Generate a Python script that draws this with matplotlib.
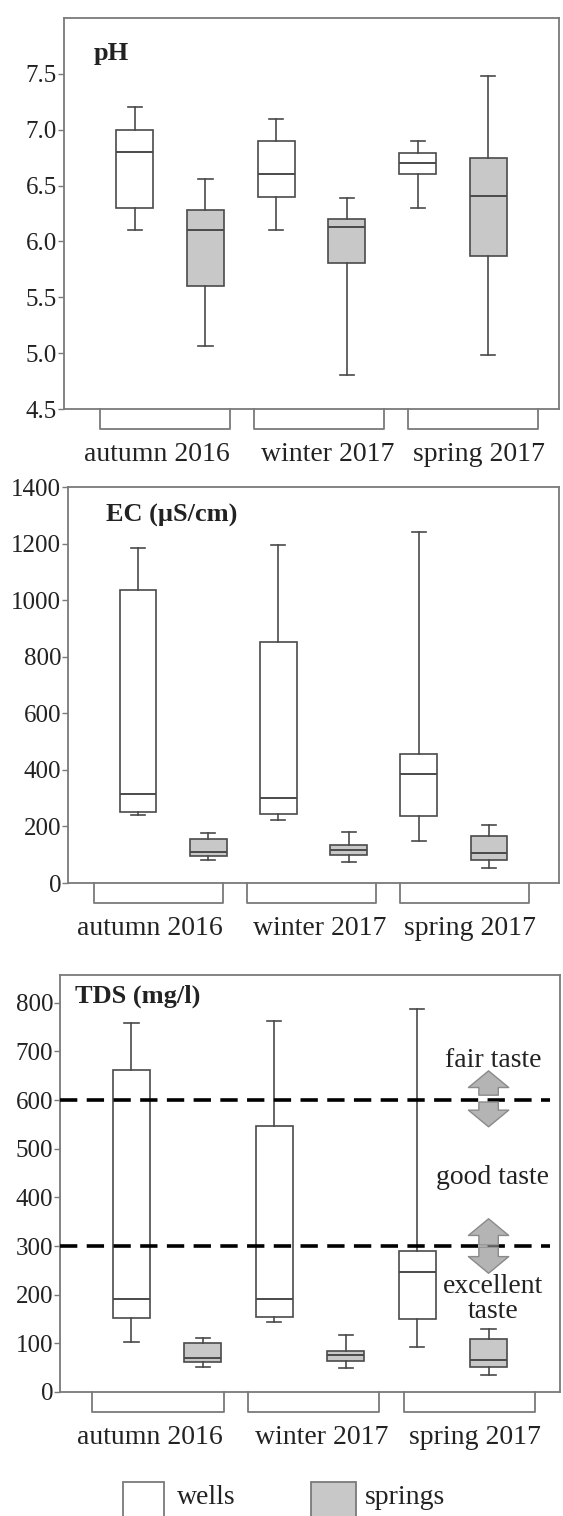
import matplotlib
matplotlib.use('Agg')
import matplotlib.pyplot as plt
import matplotlib.patches as mpatches
from matplotlib.transforms import blended_transform_factory

plt.rcParams['font.family'] = ['Liberation Serif', 'DejaVu Serif']

seasons = ['autumn 2016', 'winter 2017', 'spring 2017']
groups = ['wells', 'springs']

# per season: [whislo, q1, med, q3, whishi]
ph_wells = [[6.10, 6.30, 6.80, 7.00, 7.20], [6.10, 6.40, 6.60, 6.90, 7.10], [6.30, 6.60, 6.70, 6.79, 6.90]]
ph_springs = [[5.06, 5.60, 6.10, 6.28, 6.56], [4.80, 5.81, 6.13, 6.20, 6.39], [4.98, 5.87, 6.41, 6.75, 7.48]]
ec_wells = [[241, 251, 316, 1036, 1186], [221, 245, 302, 853, 1194], [147, 236, 385, 456, 1242]]
ec_springs = [[80, 95, 110, 156, 176], [76, 98, 118, 133, 182], [54, 82, 106, 166, 204]]
tds_wells = [[103, 152, 192, 661, 758], [143, 155, 191, 546, 763], [93, 150, 246, 290, 787]]
tds_springs = [[52, 62, 70, 100, 112], [50, 63, 77, 85, 118], [35, 52, 65, 108, 129]]

ph_ticks = [4.5, 5.0, 5.5, 6.0, 6.5, 7.0, 7.5]
ec_ticks = [0, 200, 400, 600, 800, 1000, 1200, 1400]
tds_ticks = [0, 100, 200, 300, 400, 500, 600, 700, 800]

taste_limits = [300, 600]
taste_labels = ['excellent', 'taste', 'good taste', 'fair taste']
taste_label_y = [217, 166, 441, 682]

W, H = 563, 1516
fig = plt.figure(figsize=(W / 100, H / 100), dpi=100)

EDGE = '#4a4a4a'
FRAME = '#7a7a7a'
GREY = '#c8c8c8'
TXT = '#222222'


def make_stats(rows):
    out = []
    for lo, q1, med, q3, hi in rows:
        out.append(dict(whislo=lo, q1=q1, med=med, q3=q3, whishi=hi, fliers=[]))
    return out


def panel(rect_px, wells, springs, ylim, ticks, fmt, title, title_xy, br_off):
    left, top, right, bottom = rect_px
    ax = fig.add_axes([left / W, 1 - bottom / H, (right - left) / W, (bottom - top) / H])
    pos_w = [1 + 2 * i for i in range(3)]
    pos_s = [2 + 2 * i for i in range(3)]
    for stats, pos, fc in [(make_stats(wells), pos_w, 'white'), (make_stats(springs), pos_s, GREY)]:
        ax.bxp(stats, positions=pos, widths=0.52, capwidths=0.2, showfliers=False,
               patch_artist=True,
               boxprops=dict(facecolor=fc, edgecolor=EDGE, linewidth=1.2),
               medianprops=dict(color=EDGE, linewidth=1.4),
               whiskerprops=dict(color=EDGE, linewidth=1.2),
               capprops=dict(color=EDGE, linewidth=1.2))
    ax.set_xlim(0, 7)
    ax.set_ylim(*ylim)
    ax.set_xticks([])
    ax.set_yticks(ticks)
    ax.set_yticklabels([fmt.format(t) for t in ticks])
    ax.tick_params(axis='y', length=4, width=1, color=FRAME, labelsize=18, labelcolor=TXT, pad=1)
    for s in ax.spines.values():
        s.set_color(FRAME)
        s.set_linewidth(1.3)
    ax.text(title_xy[0], title_xy[1], title, transform=ax.transAxes, fontsize=19,
            fontweight='bold', color=TXT, ha='left', va='center')
    # season brackets under the axis
    tr = blended_transform_factory(ax.transData, ax.transAxes)
    depth = 20 / (bottom - top)
    for i, lab in enumerate(seasons):
        x0 = br_off + 2.18 * i
        x1 = x0 + 1.84
        ax.plot([x0, x0, x1, x1], [0, -depth, -depth, 0], color=FRAME, lw=1.3,
                transform=tr, clip_on=False)
        ax.annotate(lab, xy=((x0 + x1) / 2, 0), xycoords=tr,
                    xytext=([-6, 6, 4][i], -33),
                    textcoords='offset points', ha='center', va='center',
                    fontsize=20, color=TXT)
    return ax


panel((64, 18, 559, 409), ph_wells, ph_springs, (4.5, 8.0), ph_ticks, '{:.1f}',
      'pH', (0.059, 0.908), 0.51)
panel((68, 487, 559, 883), ec_wells, ec_springs, (0, 1400), ec_ticks, '{:d}',
      'EC (\u00b5S/cm)', (0.077, 0.927), 0.37)
ax3 = panel((60, 975, 560, 1392), tds_wells, tds_springs, (0, 857), tds_ticks, '{:d}',
            'TDS (mg/l)', (0.03, 0.95), 0.45)

for lim in taste_limits:
    ax3.axhline(lim, xmin=0, xmax=0.98, color='black', lw=2.6, ls=(0, (4.8, 2.6)), zorder=5)

arrow_style = 'simple,tail_width=0.7,head_width=1.45,head_length=0.6'
arrows = [(610, 660), (596, 545), (302, 356), (298, 244)]
for y0, y1 in arrows:
    ax3.annotate('', xy=(6.0, y1), xytext=(6.0, y0),
                 arrowprops=dict(arrowstyle=arrow_style, mutation_scale=20,
                                 fc='#b4b4b4', ec='#8a8a8a', lw=1.0, shrinkA=0, shrinkB=0),
                 zorder=6)

for lab, y in zip(taste_labels, taste_label_y):
    ax3.text(6.06, y, lab, ha='center', va='center', fontsize=20, color=TXT)

# legend at the bottom
for (x0, x1, tx), fc, lab in zip([(123, 164, 177), (311, 356, 365)], ['white', GREY], groups):
    fig.patches.append(mpatches.Rectangle((x0 / W, 1 - 1530 / H), (x1 - x0) / W, 48 / H,
                                          transform=fig.transFigure, fc=fc, ec=FRAME, lw=1.3))
    fig.text(tx / W, 1 - 1498 / H, lab, fontsize=20, color=TXT, ha='left', va='center')

fig.savefig('out.png', dpi=100)
